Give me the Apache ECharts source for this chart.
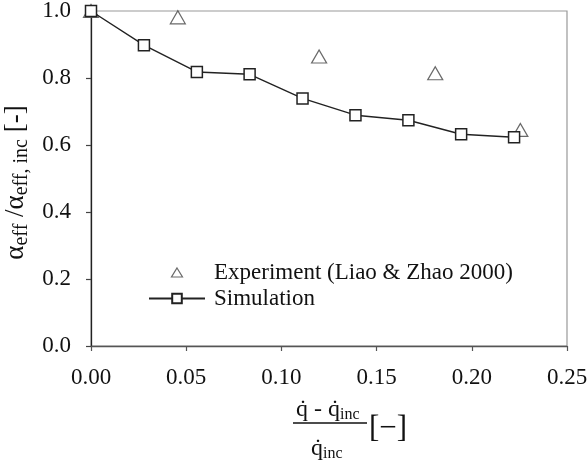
<!DOCTYPE html>
<html>
<head>
<meta charset="utf-8">
<script src="https://cdn.jsdelivr.net/npm/echarts@6/dist/echarts.min.js"></script>
<style>
html,body{margin:0;padding:0;background:#fff;}
#chart{width:587px;height:467px;}
</style>
</head>
<body>
<div id="chart"></div>
<script>
var simX = [0, 0.0278, 0.0556, 0.0833, 0.1111, 0.1389, 0.1667, 0.1944, 0.2222];
var simY = [1.0, 0.898, 0.818, 0.811, 0.739, 0.689, 0.674, 0.632, 0.623];
var expX = [0, 0.0456, 0.1198, 0.1808, 0.2255];
var expY = [1.0, 0.981, 0.864, 0.814, 0.645];
var xTicks = [0, 0.05, 0.10, 0.15, 0.20, 0.25];
var yTicks = [0, 0.2, 0.4, 0.6, 0.8, 1.0];

var FONT = '"Liberation Serif", "Times New Roman", serif';
function pairs(xs, ys){ return xs.map(function(x,i){ return [x, ys[i]]; }); }

// legend icon: small triangle centred in a wide invisible box
var triIcon = 'path://M0,0 M56,12 M28,1.5 L33.5,10.5 L22.5,10.5 Z';

var chart = echarts.init(document.getElementById('chart'), null, {renderer:'canvas'});
chart.setOption({
  backgroundColor: '#fff',
  animation: false,
  textStyle: {fontFamily: FONT},
  grid: {left: 91, right: 20, top: 11, bottom: 121, show: true, borderColor: '#999', borderWidth: 1.2,
    containLabel: false, outerBoundsMode: 'none'},
  xAxis: {
    type: 'value', min: 0, max: 0.25, interval: 0.05,
    axisLine: {show: true, lineStyle: {color: '#555', width: 1.3}},
    axisTick: {show: true, length: 5, lineStyle: {color: '#555', width: 1.2}},
    splitLine: {show: false},
    axisLabel: {fontFamily: FONT, fontSize: 23, color: '#111', margin: 20,
      formatter: function(v){ return v.toFixed(2); }}
  },
  yAxis: {
    type: 'value', min: 0, max: 1.0, interval: 0.2,
    axisLine: {show: true, lineStyle: {color: '#222', width: 1.3}},
    axisTick: {show: true, length: 5, lineStyle: {color: '#444', width: 1.2}},
    splitLine: {show: false},
    axisLabel: {fontFamily: FONT, fontSize: 23, color: '#111', margin: 20,
      formatter: function(v){ return v.toFixed(1); }},
    name: '{m|α}{s|eff}{m| /α}{s|eff, inc}{m| [-]}',
    nameLocation: 'middle', nameRotate: 90, nameGap: 48,
    nameTextStyle: {
      fontFamily: FONT,
      padding: [0, 8, 0, 0],
      rich: {
        m: {fontFamily: FONT, fontSize: 27, color: '#111', lineHeight: 31},
        s: {fontFamily: FONT, fontSize: 20, color: '#111', lineHeight: 19, verticalAlign: 'bottom'}
      }
    }
  },
  legend: {
    orient: 'vertical', left: 143, top: 256, itemGap: 3,
    itemWidth: 56, itemHeight: 12,
    textStyle: {fontFamily: FONT, fontSize: 23, color: '#111', padding: [0,0,0,4]},
    data: [
      {name: 'Experiment (Liao & Zhao 2000)', icon: triIcon,
        itemStyle: {color: '#fff', borderColor: '#444', borderWidth: 1.2}},
      {name: 'Simulation'}
    ]
  },
  series: [
    {
      name: 'Experiment (Liao & Zhao 2000)', type: 'scatter',
      data: pairs(expX, expY),
      symbol: 'triangle', symbolSize: [15, 13],
      itemStyle: {color: '#fff', borderColor: '#444', borderWidth: 1.2},
      z: 2
    },
    {
      name: 'Simulation', type: 'line',
      data: pairs(simX, simY),
      symbol: 'rect', symbolSize: 11, showAllSymbol: true,
      lineStyle: {color: '#222', width: 1.4},
      itemStyle: {color: '#fff', borderColor: '#222', borderWidth: 1.5},
      z: 3
    }
  ],
  graphic: [
    {type: 'text', left: 296, top: 398,
      style: {rich: {
        m: {fontFamily: FONT, fontSize: 24, fill: '#111', lineHeight: 25},
        s: {fontFamily: FONT, fontSize: 16, fill: '#111', lineHeight: 15, verticalAlign: 'bottom'}
      }, text: '{m|q\u0307 - q\u0307}{s|inc}'}},
    {type: 'line', shape: {x1: 293, y1: 423, x2: 367, y2: 423}, style: {stroke: '#111', lineWidth: 1.3}},
    {type: 'text', left: 311, top: 437,
      style: {rich: {
        m: {fontFamily: FONT, fontSize: 24, fill: '#111', lineHeight: 25},
        s: {fontFamily: FONT, fontSize: 16, fill: '#111', lineHeight: 15, verticalAlign: 'bottom'}
      }, text: '{m|q\u0307}{s|inc}'}},
    {type: 'text', left: 369, top: 413,
      style: {text: '[\u2212]', font: '31px ' + FONT, fill: '#111'}}
  ]
});
</script>
</body>
</html>
